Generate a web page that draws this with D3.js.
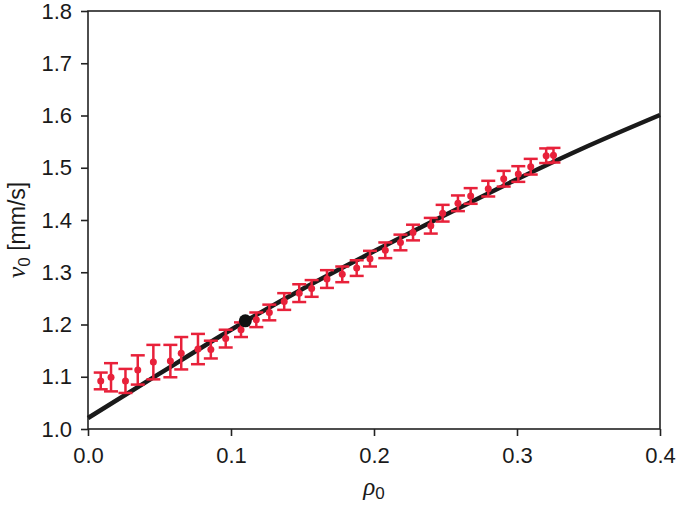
<!DOCTYPE html>
<html>
<head>
<meta charset="utf-8">
<script src="https://cdn.jsdelivr.net/npm/d3@7"></script>
<style>
  body { margin: 0; background: #fff; }
  svg { display: block; font-family: "Liberation Sans", Arial, sans-serif; }
</style>
</head>
<body>
<svg id="chart" width="680" height="507"></svg>
<script>
// measured points (rho0, v0, error)
var rho = [0.0089, 0.0161, 0.0262, 0.0348, 0.0457, 0.0576, 0.0652, 0.0769, 0.0859, 0.0963,
           0.1070, 0.1177, 0.1268, 0.1372, 0.1477, 0.1564, 0.1671, 0.1778, 0.1879, 0.1972,
           0.2079, 0.2185, 0.2273, 0.2397, 0.2480, 0.2587, 0.2676, 0.2799, 0.2907, 0.3009,
           0.3096, 0.3204, 0.3255]
var vel = [1.092, 1.099, 1.092, 1.113, 1.128, 1.130, 1.145, 1.153, 1.152, 1.173,
           1.190, 1.209, 1.223, 1.244, 1.260, 1.269, 1.287, 1.296, 1.308, 1.326,
           1.342, 1.357, 1.376, 1.389, 1.413, 1.432, 1.446, 1.460, 1.479, 1.488,
           1.502, 1.523, 1.524]
var err = [0.016, 0.027, 0.023, 0.028, 0.033, 0.031, 0.031, 0.029, 0.017, 0.017,
           0.014, 0.014, 0.015, 0.016, 0.017, 0.016, 0.017, 0.015, 0.015, 0.015,
           0.015, 0.015, 0.015, 0.015, 0.016, 0.015, 0.015, 0.015, 0.015, 0.015,
           0.015, 0.014, 0.014]

// theory curve
var curveRho = [0, 0.05, 0.1, 0.15, 0.2, 0.25, 0.3, 0.35, 0.4]
var curveVel = [1.021, 1.106, 1.190, 1.268, 1.340, 1.410, 1.478, 1.542, 1.601]

// reference point
var refPoint = {rho: 0.11, v: 1.207}

var xTicks = [0, 0.1, 0.2, 0.3, 0.4]
var yTicks = [1.0, 1.1, 1.2, 1.3, 1.4, 1.5, 1.6, 1.7, 1.8]

var red = "#e8213a"

var initGraph = function() {
    var margin = {left:88, right:20, top:11, bottom:78}
    var graph = {width: 680-margin.left-margin.right, height: 507-margin.top-margin.bottom}

    var svg = d3.select("#chart")
    var target = svg.append("g")
        .attr("transform", "translate("+margin.left+","+margin.top+")")

    var xScale = d3.scaleLinear().domain([0, 0.4]).range([0, graph.width])
    var yScale = d3.scaleLinear().domain([1.0, 1.8]).range([graph.height, 0])

    // frame
    target.append("rect")
        .attr("width", graph.width)
        .attr("height", graph.height)
        .style("fill", "none")
        .style("stroke", "#222")
        .style("stroke-width", 1.6)

    var xAxis = d3.axisBottom(xScale).tickValues(xTicks).tickFormat(d3.format(".1f"))
        .tickSizeInner(7).tickSizeOuter(0).tickPadding(11)
    var yAxis = d3.axisLeft(yScale).tickValues(yTicks).tickFormat(d3.format(".1f"))
        .tickSizeInner(7).tickSizeOuter(0).tickPadding(9)

    var gx = target.append("g").attr("transform", "translate(0,"+graph.height+")").call(xAxis)
    var gy = target.append("g").call(yAxis)
    ;[gx, gy].forEach(function(g) {
        g.select(".domain").remove()
        g.selectAll("line").style("stroke", "#222").style("stroke-width", 1.6)
        g.selectAll("text")
            .style("font-family", "'Liberation Sans', Arial, sans-serif")
            .style("font-size", "22px")
            .style("fill", "#1a1a1a")
    })

    // theory line
    var line = d3.line()
        .x(function(d) { return xScale(d[0]) })
        .y(function(d) { return yScale(d[1]) })
        .curve(d3.curveMonotoneX)
    target.append("path")
        .attr("d", line(d3.zip(curveRho, curveVel)))
        .style("fill", "none")
        .style("stroke", "#1a1a1a")
        .style("stroke-width", 4.5)

    // error bars
    var data = rho.map(function(r, i) { return {rho: r, v: vel[i], e: err[i]} })
    var bars = target.selectAll("g.bar")
        .data(data)
        .enter()
        .append("g")
        .attr("class", "bar")
        .style("stroke", red)
        .style("stroke-width", 2.5)
    bars.append("line")
        .attr("x1", function(d) { return xScale(d.rho) })
        .attr("x2", function(d) { return xScale(d.rho) })
        .attr("y1", function(d) { return yScale(d.v + d.e) })
        .attr("y2", function(d) { return yScale(d.v - d.e) })
    bars.append("line")
        .attr("x1", function(d) { return xScale(d.rho) - 7 })
        .attr("x2", function(d) { return xScale(d.rho) + 7 })
        .attr("y1", function(d) { return yScale(d.v + d.e) })
        .attr("y2", function(d) { return yScale(d.v + d.e) })
    bars.append("line")
        .attr("x1", function(d) { return xScale(d.rho) - 7 })
        .attr("x2", function(d) { return xScale(d.rho) + 7 })
        .attr("y1", function(d) { return yScale(d.v - d.e) })
        .attr("y2", function(d) { return yScale(d.v - d.e) })
    bars.append("circle")
        .attr("cx", function(d) { return xScale(d.rho) })
        .attr("cy", function(d) { return yScale(d.v) })
        .attr("r", 3.5)
        .style("stroke", "none")
        .style("fill", red)

    target.append("circle")
        .attr("cx", xScale(refPoint.rho))
        .attr("cy", yScale(refPoint.v))
        .attr("r", 6.5)
        .style("fill", "#111")

    // axis labels
    var xl = svg.append("text")
        .attr("x", margin.left + xScale(0.2))
        .attr("y", 495)
        .attr("text-anchor", "middle")
        .style("fill", "#1a1a1a")
    xl.append("tspan").text("ρ")
        .style("font-family", "'Liberation Serif', 'DejaVu Serif', serif")
        .style("font-style", "italic")
        .style("font-size", "25px")
    xl.append("tspan").text("0")
        .attr("dy", 4)
        .style("font-size", "17px")

    var yl = svg.append("text")
        .attr("transform", "translate(25,"+(margin.top+graph.height/2+10)+") rotate(-90)")
        .attr("text-anchor", "middle")
        .style("fill", "#1a1a1a")
    yl.append("tspan").text("v")
        .style("font-family", "'Liberation Serif', 'DejaVu Serif', serif")
        .style("font-style", "italic")
        .style("font-size", "26px")
    yl.append("tspan").text("0")
        .attr("dy", 5)
        .style("font-size", "17px")
    yl.append("tspan").text(" [mm/s]")
        .attr("dy", -5)
        .style("font-size", "23px")
}

initGraph()
</script>
</body>
</html>
